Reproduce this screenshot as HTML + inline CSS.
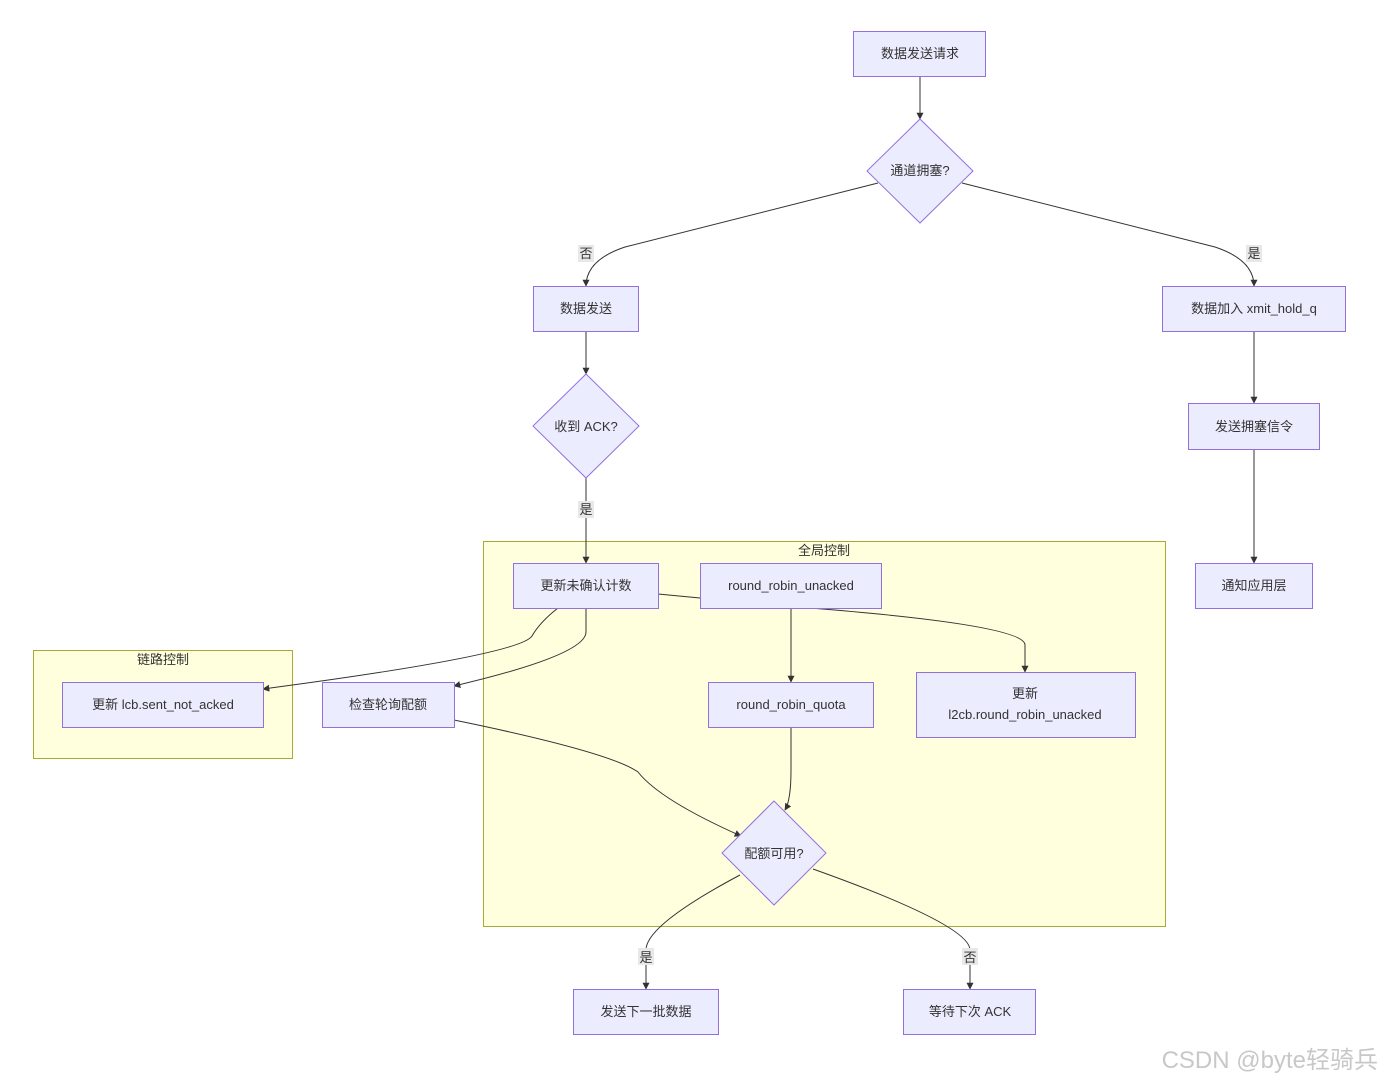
<!DOCTYPE html>
<html><head><meta charset="utf-8"><style>
body{margin:0;background:#fff;}
svg text{font-family:"Liberation Sans","Noto Sans CJK SC",sans-serif;font-size:13px;fill:#333;}
</style></head><body>
<svg width="1384" height="1083" viewBox="0 0 1384 1083" xmlns="http://www.w3.org/2000/svg">
<defs><marker id="a" viewBox="0 0 10 10" refX="9" refY="5" markerWidth="7" markerHeight="7" orient="auto"><path d="M0,0L10,5L0,10z" fill="#333"/></marker></defs>
<g fill="#FFFFDE" stroke="#AAAA33">
<rect x="483.5" y="541.5" width="682" height="385"/>
<rect x="33.5" y="650.5" width="259" height="108"/>
</g>
<text x="824" y="555" text-anchor="middle">全局控制</text>
<text x="163" y="664" text-anchor="middle">链路控制</text>
<g fill="none" stroke="#333" stroke-width="1" marker-end="url(#a)">
<path d="M920,76 L920,119"/>
<path d="M878,183 L625,247 Q586,260 586,286"/>
<path d="M962,183 L1215,247 Q1254,260 1254,286"/>
<path d="M586,331 L586,374"/>
<path d="M1254,331 L1254,403"/>
<path d="M586,478 L586,563"/>
<path d="M1254,449 L1254,563"/>
<path d="M658,594 L700,598 M810,608 Q1025,625 1025,645 L1025,672"/>
<path d="M558,608 Q540,622 532,636 Q520,655 263,689"/>
<path d="M586,608 L586,632 Q586,655 454,686"/>
<path d="M791,608 L791,682"/>
<path d="M454,720 Q610,752 638,772 Q660,800 741,836"/>
<path d="M791,727 L791,770 Q791,800 785,810"/>
<path d="M740,875 Q646,925 646,950 L646,989"/>
<path d="M813,869 Q970,925 970,950 L970,989"/>
</g>
<g fill="#ECECFF" stroke="#9370DB">
<rect x="853.5" y="31.5" width="132" height="45"/>
<path d="M920,119 L973,171 L920,223 L867,171Z"/>
<rect x="533.5" y="286.5" width="105" height="45"/>
<rect x="1162.5" y="286.5" width="183" height="45"/>
<path d="M586,374 L639,426 L586,478 L533,426Z"/>
<rect x="1188.5" y="403.5" width="131" height="46"/>
<rect x="1195.5" y="563.5" width="117" height="45"/>
<rect x="513.5" y="563.5" width="145" height="45"/>
<rect x="700.5" y="563.5" width="181" height="45"/>
<rect x="62.5" y="682.5" width="201" height="45"/>
<rect x="322.5" y="682.5" width="132" height="45"/>
<rect x="708.5" y="682.5" width="165" height="45"/>
<rect x="916.5" y="672.5" width="219" height="65"/>
<path d="M774,801 L826,853 L774,905 L722,853Z"/>
<rect x="573.5" y="989.5" width="145" height="45"/>
<rect x="903.5" y="989.5" width="132" height="45"/>
</g>
<g text-anchor="middle">
<text x="920" y="58">数据发送请求</text>
<text x="920" y="175">通道拥塞?</text>
<text x="586" y="313">数据发送</text>
<text x="1254" y="313">数据加入 xmit_hold_q</text>
<text x="586" y="431">收到 ACK?</text>
<text x="1254" y="431">发送拥塞信令</text>
<text x="1254" y="590">通知应用层</text>
<text x="586" y="590">更新未确认计数</text>
<text x="791" y="590">round_robin_unacked</text>
<text x="163" y="709">更新 lcb.sent_not_acked</text>
<text x="388" y="709">检查轮询配额</text>
<text x="791" y="709">round_robin_quota</text>
<text x="1025" y="698">更新</text>
<text x="1025" y="719">l2cb.round_robin_unacked</text>
<text x="774" y="858">配额可用?</text>
<text x="646" y="1016">发送下一批数据</text>
<text x="970" y="1016">等待下次 ACK</text>
</g>
<g fill="#e8e8e8"><rect x="578" y="245" width="16" height="17"/><rect x="1246" y="245" width="16" height="17"/><rect x="578" y="501" width="16" height="17"/><rect x="638" y="948" width="16" height="17"/><rect x="962" y="948" width="16" height="17"/></g>
<g text-anchor="middle">
<text x="586" y="258">否</text><text x="1254" y="258">是</text><text x="586" y="514">是</text><text x="646" y="962">是</text><text x="970" y="962">否</text>
</g>
<text x="1378" y="1068" text-anchor="end" style="font-size:24px;fill:#c8c8c8">CSDN @byte轻骑兵</text>
</svg>
</body></html>
